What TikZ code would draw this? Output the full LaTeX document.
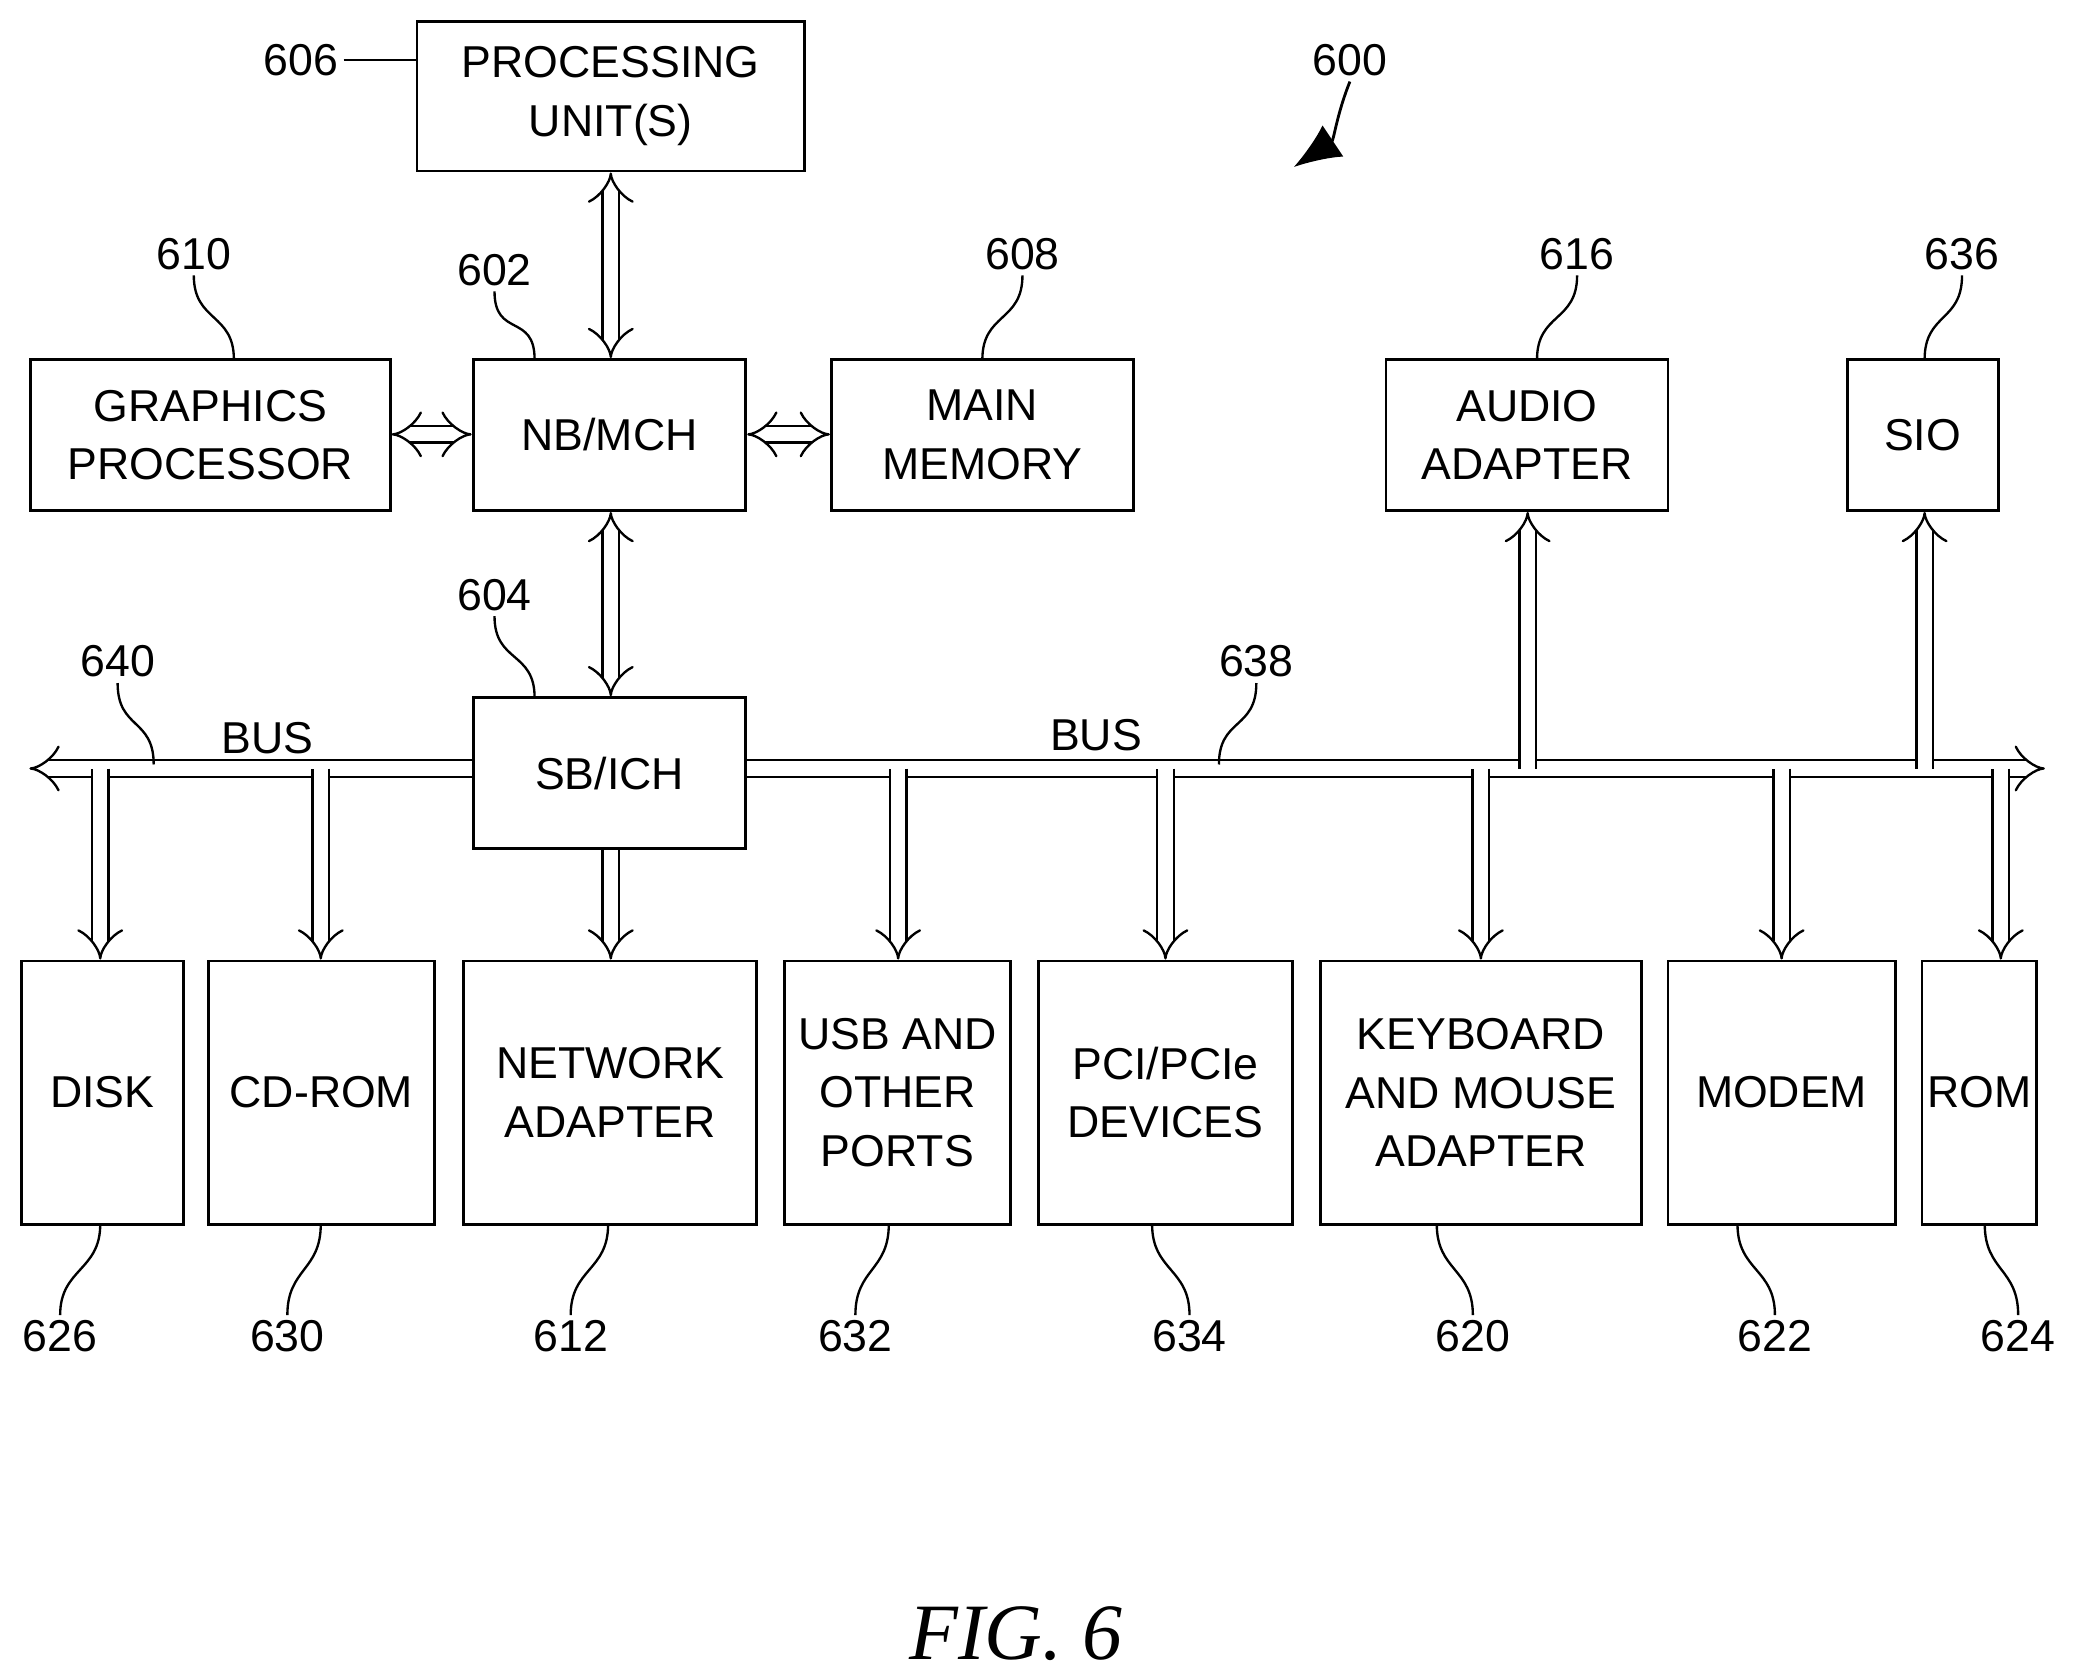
\documentclass[tikz,border=0pt]{standalone}
\usepackage{fontspec}
\setmainfont{Liberation Sans}
\usetikzlibrary{arrows.meta}
\begin{document}
\begin{tikzpicture}[x=0.01cm,y=-0.01cm,
  box/.style={draw,line width=0.6pt,align=center,font=\fontsize{9.5}{12.5}\selectfont,inner sep=0pt},
  lbl/.style={font=\fontsize{9.5}{11}\selectfont,inner sep=1pt},
  dbl/.style={double,double distance=3pt,line width=0.5pt},
  da/.style={dbl,{Implies}-{Implies}},
  sa/.style={dbl,-{Implies}},
  lead/.style={line width=0.5pt}]
\useasboundingbox (0,0) rectangle (1563,1255);
\newcommand{\bx}[6]{\node[box,minimum width={(#4-#2)*0.01cm},minimum height={(#5-#3)*0.01cm}] (#1) at ({(#2+#4)/2},{(#3+#5)/2}) {#6};}
\bx{pu}{312}{16}{602}{128}{PROCESSING\\UNIT(S)}
\bx{gp}{23}{269}{292}{382}{GRAPHICS\\PROCESSOR}
\bx{nb}{354}{269}{558}{382}{NB/MCH}
\bx{mm}{622}{269}{848}{382}{MAIN\\MEMORY}
\bx{aa}{1037}{269}{1248}{382}{AUDIO\\ADAPTER}
\bx{sio}{1382}{269}{1495}{382}{SIO}
\bx{sb}{354}{522}{558}{635}{SB/ICH}
\bx{disk}{16}{719}{137}{916}{DISK}
\bx{cd}{156}{719}{325}{916}{CD-ROM}
\bx{net}{347}{719}{566}{916}{NETWORK\\ADAPTER}
\bx{usb}{587}{719}{756}{916}{USB AND\\OTHER\\PORTS}
\bx{pci}{777}{719}{967}{916}{PCI/PCIe\\DEVICES}
\bx{kb}{988}{719}{1228}{916}{KEYBOARD\\AND MOUSE\\ADAPTER}
\bx{mod}{1248}{719}{1418}{916}{MODEM}
\bx{rom}{1438}{719}{1524}{916}{ROM}
% bus
\coordinate (bl) at (22,575); \coordinate (br) at (1530,575);
\draw[sa] (sb.west|-bl) -- (bl);
\draw[sa] (sb.east|-br) -- (br);
\draw[da] (pu.south-|457,0) -- (nb.north-|457,0);
\draw[da] (nb.south-|457,0) -- (sb.north-|457,0);
\draw[da] (gp.east|-0,325) -- (nb.west|-0,325);
\draw[da] (nb.east|-0,325) -- (mm.west|-0,325);
\draw[sa] (sb.south-|457,0) -- (net.north-|457,0);
\foreach \x/\n in {75/disk,240/cd,672/usb,872/pci,1108/kb,1333/mod,1497/rom}{
  \coordinate (t\n) at (\x,575);
  \draw[sa] (t\n) -- (\n.north-|t\n);}
\coordinate (ta) at (1143,575); \coordinate (ts) at (1440,575);
\draw[sa] (ta) -- (aa.south-|ta);
\draw[sa] (ts) -- (sio.south-|ts);
\node[lbl] (bus1) at (200,552) {BUS};
\node[lbl] (bus2) at (820,550) {BUS};
% labels
\newcommand{\lb}[6]{\node[lbl] (#1) at (#2,#3) {#1}; \coordinate (#1p) at (#4,#5); \draw[lead] (#1.#6) .. controls +(0,25) and +(0,-25) .. (#1p);}
\node[lbl] (l606) at (225,45) {606};
\draw[lead] (l606.east) .. controls +(30,0) and +(-25,0) .. (pu.west|-0,45);
\node[lbl] (l600) at (1010,45) {600};
\coordinate (a600) at (968,125);
\draw[line width=0.6pt,-{Latex[length=10pt,width=8pt]}] (l600.south) .. controls +(-10,25) and +(30,-20) .. (a600);
\foreach \t/\lx/\ly/\px/\py in {610/145/190/175/269,602/370/202/400/269,608/765/190/735/269,616/1180/190/1150/269,636/1468/190/1440/269,604/370/445/400/522,640/88/495/115/572,638/940/495/912/572}{
  \node[lbl] (n\t) at (\lx,\ly) {\t};
  \coordinate (p\t) at (\px,\py);
  \draw[lead] (n\t.south) .. controls +(0,35) and +(0,-35) .. (p\t);}
\foreach \t/\lx/\px in {626/45/75,630/215/240,612/427/455,632/640/665,634/890/862,620/1102/1075,622/1328/1300,624/1510/1485}{
  \node[lbl] (n\t) at (\lx,1000) {\t};
  \coordinate (p\t) at (\px,916);
  \draw[lead] (p\t) .. controls +(0,35) and +(0,-35) .. (n\t.north);}
\node[font=\fontsize{17}{20}\selectfont\itshape\rmfamily] (fig) at (760,1222) {\fontspec{Liberation Serif}FIG. 6};
\end{tikzpicture}
\end{document}
